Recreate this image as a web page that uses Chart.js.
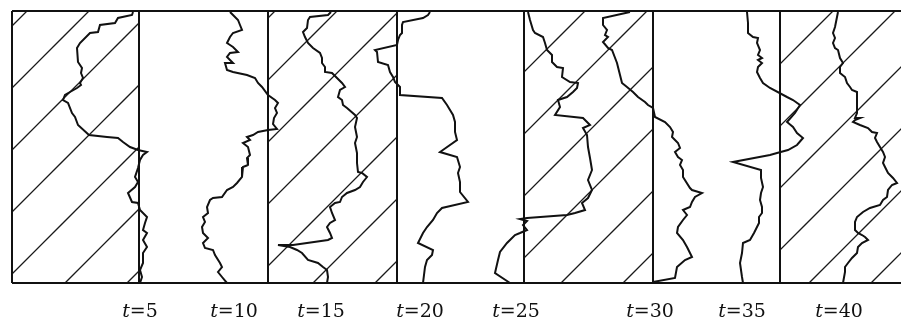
<!DOCTYPE html>
<html>
<head>
<meta charset="utf-8">
<script src="https://cdn.jsdelivr.net/npm/chart.js@4/dist/chart.umd.min.js"></script>
<style>
  html, body { margin: 0; padding: 0; background: #fff; }
  #wrap { width: 901px; height: 320px; }
</style>
</head>
<body>
<div id="wrap"><canvas id="myChart" width="901" height="320"></canvas></div>
<script>
// positions (x across, y down from the top edge)
var panelEdges = [12, 139, 268, 397, 524, 653, 780];
var hatchedPanels = [[12, 139], [268, 397], [524, 653], [780, 901]];
var topY = 11, bottomY = 283, rightX = 901;

var times = ["5", "10", "15", "20", "25", "30", "35", "40"];
var labelX = [140, 234, 321, 420, 516, 650, 742, 839];

var front5 = [
  [133,12],[132,15],[118,18],[115,23],[100,25],[98,32],[90,33],[80,43],[77,48],[78,62],
  [82,68],[81,73],[83,78],[80,83],[81,85],[77,88],[70,92],[65,95],[63,100],[68,103],
  [72,113],[75,117],[78,125],[89,135],[107,137],[118,138],[123,142],[130,147],[138,150],
  [147,152],[143,155],[140,160],[138,168],[135,177],[138,182],[135,187],[128,193],
  [132,202],[138,203],[140,210],[147,217],[145,223],[143,230],[147,233],[143,240],
  [147,247],[143,253],[143,263],[140,270],[142,277],[140,283]
];
var front10 = [
  [230,12],[233,15],[238,20],[240,25],[242,30],[233,33],[230,37],[227,43],[233,47],
  [238,52],[230,53],[227,57],[230,60],[233,63],[225,63],[227,70],[233,72],[247,75],
  [255,78],[258,83],[262,87],[268,95],[275,100],[278,103],[275,108],[277,113],[274,118],
  [273,124],[277,129],[268,130],[258,132],[253,135],[247,137],[250,140],[243,143],
  [248,147],[250,155],[247,158],[248,165],[243,167],[242,170],[242,177],[237,183],
  [233,187],[227,190],[222,197],[213,198],[210,200],[207,207],[208,213],[203,217],
  [205,222],[202,227],[203,233],[208,238],[203,243],[205,248],[213,250],[215,255],
  [220,263],[222,267],[218,272],[222,277],[227,283]
];
var front15 = [
  [331,12],[328,15],[310,17],[308,20],[307,28],[303,32],[305,37],[308,43],[313,48],
  [320,53],[322,58],[322,63],[325,67],[325,72],[332,73],[342,83],[345,87],[340,90],
  [338,97],[342,100],[343,105],[347,108],[355,115],[357,118],[355,127],[357,137],
  [355,143],[357,153],[357,163],[358,172],[362,173],[367,177],[363,182],[360,187],
  [355,190],[347,193],[342,197],[340,202],[335,203],[330,207],[332,213],[335,220],
  [330,223],[327,227],[330,233],[332,238],[328,240],[293,245],[278,245],[290,247],
  [297,250],[302,253],[308,260],[318,263],[323,267],[327,270],[328,277],[327,283]
];
var front20 = [
  [430,12],[428,15],[423,18],[403,22],[402,25],[402,33],[400,35],[398,40],[397,45],
  [375,50],[377,52],[378,62],[388,65],[390,72],[393,77],[395,82],[400,87],[400,95],
  [442,98],[447,105],[453,115],[455,122],[455,132],[457,140],[440,152],[457,157],
  [460,167],[458,173],[460,182],[460,192],[468,202],[442,208],[437,213],[433,220],
  [427,227],[423,233],[418,243],[433,250],[432,255],[427,260],[425,267],[423,283]
];
var front25 = [
  [528,12],[530,20],[533,30],[535,33],[543,37],[545,43],[547,50],[552,55],[552,62],
  [557,67],[563,68],[562,77],[570,82],[578,83],[577,88],[573,92],[567,97],[558,100],
  [560,107],[555,115],[583,118],[590,125],[583,128],[587,135],[588,147],[590,158],
  [592,170],[588,180],[592,190],[588,198],[582,203],[585,210],[575,213],[567,215],
  [527,218],[520,219],[527,221],[523,225],[527,230],[520,233],[515,235],[507,243],
  [500,252],[498,260],[495,273],[510,283]
];
var front30 = [
  [630,12],[603,18],[603,25],[607,30],[605,35],[608,37],[603,42],[608,48],[612,50],
  [617,63],[620,75],[622,83],[627,87],[633,92],[638,97],[645,102],[648,105],[653,108],
  [655,117],[665,122],[670,127],[673,132],[672,137],[675,140],[678,143],[680,148],
  [675,152],[678,157],[682,160],[680,165],[683,170],[683,177],[690,188],[692,190],
  [702,193],[695,197],[692,202],[690,207],[683,210],[687,215],[683,220],[678,227],
  [677,233],[683,240],[687,247],[692,257],[685,260],[677,267],[675,278],[653,282]
];
var front35 = [
  [747,12],[748,23],[748,33],[753,37],[758,38],[757,43],[760,50],[758,55],[762,58],
  [758,60],[762,63],[758,67],[757,72],[760,78],[763,83],[770,88],[787,97],[793,100],
  [800,105],[795,113],[787,122],[793,127],[797,133],[803,138],[797,145],[788,150],
  [777,153],[770,155],[733,162],[761,170],[761,178],[763,187],[761,193],[760,200],
  [762,207],[762,213],[759,217],[759,223],[754,233],[750,240],[743,243],[742,253],
  [740,263],[742,277],[743,283]
];
var front40 = [
  [838,12],[837,17],[835,27],[833,33],[835,38],[833,43],[835,48],[838,50],[840,58],
  [843,63],[840,67],[840,73],[845,77],[847,83],[850,87],[852,90],[857,92],[857,100],
  [857,113],[855,118],[860,118],[855,120],[853,122],[860,125],[868,128],[872,132],
  [877,133],[875,138],[877,142],[880,147],[883,152],[885,157],[883,163],[885,167],
  [888,173],[893,178],[897,183],[892,185],[888,190],[887,197],[883,200],[880,205],
  [870,208],[863,212],[857,217],[855,222],[855,230],[858,233],[862,235],[865,237],
  [868,240],[862,243],[858,247],[857,253],[852,258],[848,263],[845,267],[845,272],
  [843,283]
];
var fronts = [front5, front10, front15, front20, front25, front30, front35, front40];

var hatchPattern = function () {
    var c = document.createElement("canvas");
    c.width = 62;
    c.height = 62;
    var g = c.getContext("2d");
    g.strokeStyle = "#1a1a1a";
    g.lineWidth = 1.3;
    g.beginPath();
    g.moveTo(-3, 41); g.lineTo(41, -3);
    g.moveTo(35, 65); g.lineTo(65, 35);
    g.stroke();
    return g.createPattern(c, "repeat");
};

var labelPlugin = {
    id: "tlabels",
    afterDraw: function (chart) {
        var ctx = chart.ctx;
        var xs = chart.scales.x;
        ctx.save();
        ctx.fillStyle = "#111";
        ctx.textBaseline = "alphabetic";
        for (var i = 0; i < times.length; i++) {
            var cx = xs.getPixelForValue(labelX[i]);
            ctx.font = "italic 19px 'DejaVu Serif'";
            var w1 = ctx.measureText("t").width;
            ctx.font = "19px 'DejaVu Serif'";
            var rest = "=" + times[i];
            var w2 = ctx.measureText(rest).width;
            var x0 = cx - (w1 + w2) / 2;
            ctx.font = "italic 19px 'DejaVu Serif'";
            ctx.fillText("t", x0, 317);
            ctx.font = "19px 'DejaVu Serif'";
            ctx.fillText(rest, x0 + w1, 317);
        }
        ctx.restore();
    }
};

window.onload = function () {
    var canvas = document.getElementById("myChart");
    var ctx = canvas.getContext("2d");
    var pattern = hatchPattern();

    var datasets = [];
    fronts.forEach(function (f) {
        datasets.push({
            data: f.map(function (p) { return {x: p[0], y: p[1]}; }),
            borderColor: "#111",
            borderWidth: 2,
            pointRadius: 0,
            fill: false,
            order: 0,
            clip: false
        });
    });

    var frame = [];
    panelEdges.forEach(function (e) {
        frame.push({x: e, y: topY}, {x: e, y: bottomY}, {x: e, y: null});
    });
    frame.push({x: panelEdges[0], y: topY}, {x: rightX, y: topY}, {x: rightX, y: null});
    frame.push({x: panelEdges[0], y: bottomY}, {x: rightX, y: bottomY});
    datasets.push({
        data: frame,
        borderColor: "#111",
        borderWidth: 2,
        pointRadius: 0,
        fill: false,
        spanGaps: false,
        order: 1,
        clip: false
    });

    hatchedPanels.forEach(function (p) {
        datasets.push({
            data: [{x: p[0], y: topY}, {x: p[1], y: topY}],
            borderWidth: 0,
            borderColor: "rgba(0,0,0,0)",
            backgroundColor: pattern,
            pointRadius: 0,
            fill: {value: bottomY},
            order: 2
        });
    });

    new Chart(ctx, {
        type: "line",
        data: {datasets: datasets},
        options: {
            responsive: false,
            animation: false,
            events: [],
            layout: {padding: {left: 12, top: 11, right: 0, bottom: 37}},
            plugins: {legend: {display: false}, tooltip: {enabled: false}},
            scales: {
                x: {type: "linear", min: 12, max: rightX, display: false},
                y: {type: "linear", min: topY, max: bottomY, reverse: true, display: false}
            }
        },
        plugins: [labelPlugin]
    });
};
</script>
</body>
</html>
